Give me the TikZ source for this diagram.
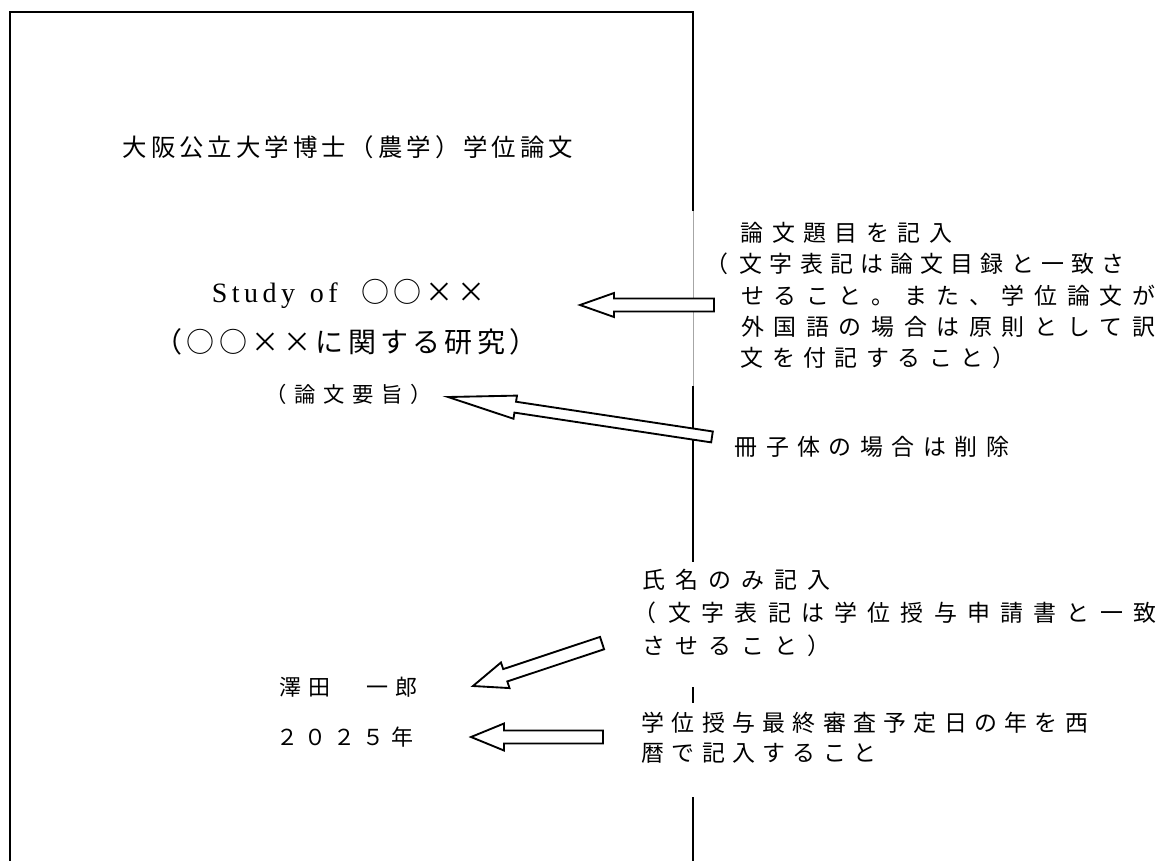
\documentclass[tikz,border=0pt]{standalone}
\usepackage{fontspec}
\newfontfamily\jp{Noto Sans CJK JP}
\newfontfamily\latinserif{Liberation Serif}[LetterSpace=16]
\makeatletter
\newcommand\jpspaced[2]{\def\jp@pitch{#1}\jp@next#2\jp@stop}
\def\jp@stop{\jp@stop}
\def\jp@next#1{\ifx\jp@stop#1\else\makebox[\jp@pitch][c]{#1}\expandafter\jp@next\fi}
\makeatother
\tikzset{
    pics/blockarrow/.style args={#1/#2/#3/#4}{code={
    \draw[line width=1.4pt, fill=white, line join=miter] (0,0) -- (#2,#3) -- (#2,#4) -- (#1,#4) -- (#1,-#4) -- (#2,-#4) -- (#2,-#3) -- cycle;
    }}
}

\begin{document}
\begin{tikzpicture}[x=0.75pt,y=-0.75pt,line join=miter,
    pageline/.style={line width=1.5pt},
    jpnode/.style={inner sep=0pt}]
\useasboundingbox (0,0) rectangle (1158,861);

\draw[pageline] (693,211) -- (693,12) -- (10,12) -- (10,861);
\draw[line width=0.75pt, black!35] (693,211) -- (693,386);
\draw[pageline] (693,386) -- (693,562);
\draw[pageline] (693,687) -- (693,703);
\draw[pageline] (693,797) -- (693,861);

\node[jpnode, font=\jp\fontsize{18.3pt}{20pt}\selectfont] (degree) at (348,147) {\jpspaced{21.3pt}{大阪公立大学博士（農学）学位論文}};
\node[jpnode, font=\jp\fontsize{21pt}{24pt}\selectfont] (title) at (350,294) {{\latinserif Study\hspace{11pt}of}\hspace{16pt}\jpspaced{24.2pt}{○○××}};
\node[jpnode, font=\jp\fontsize{21pt}{24pt}\selectfont] (subtitle) at (346,342) {\jpspaced{24.2pt}{（○○××に関する研究）}};
\node[jpnode, font=\jp\fontsize{16pt}{18pt}\selectfont] (summary) at (349,394) {\jpspaced{21.75pt}{（論文要旨）}};
\node[jpnode, font=\jp\fontsize{16.5pt}{18pt}\selectfont] (author) at (348.5,687) {\jpspaced{21.75pt}{澤田~一郎}};
\node[jpnode, font=\jp\fontsize{16.5pt}{18pt}\selectfont] (year) at (345,737) {\jpspaced{21.75pt}{２０２５年}};

\node[jpnode, anchor=north west, align=left, font=\jp\fontsize{17.2pt}{23.5pt}\selectfont] (titlenote) at (736,222) {\jpspaced{23.6pt}{論文題目を記入}\\
\llap{（\kern5.6pt}\jpspaced{22.6pt}{文字表記は論文目録と一致さ}\\
\jpspaced{24.45pt}{せること。また、学位論文が}\\
\jpspaced{24.45pt}{外国語の場合は原則として訳}\\
\jpspaced{23.6pt}{文を付記すること）}};
\node[jpnode, anchor=west, font=\jp\fontsize{17.2pt}{23.5pt}\selectfont] (bookletnote) at (730,447) {\jpspaced{23.6pt}{冊子体の場合は削除}};
\node[jpnode, anchor=north west, align=left, font=\jp\fontsize{17.2pt}{24.75pt}\selectfont] (namenote) at (637,569) {\jpspaced{24.75pt}{氏名のみ記入}\\
\kern-2.6pt（\kern5pt\jpspaced{24.9pt}{文字表記は学位授与申請書と一致}\\
\jpspaced{24.75pt}{させること）}};
\node[jpnode, anchor=north west, align=left, font=\jp\fontsize{17.2pt}{22.1pt}\selectfont] (yearnote) at (637.6,712) {\jpspaced{22.7pt}{学位授与最終審査予定日の年を西}\\
\jpspaced{22.7pt}{暦で記入すること}};

\coordinate (titletip) at (580,305);
\coordinate (summarytip) at (448,397);
\coordinate (authortip) at (473,686);
\coordinate (yeartip) at (471,737);
\path (titletip) pic {blockarrow=134/34/12/6.5};
\path (summarytip) pic[rotate=-8.6] {blockarrow=267/68/11.7/5.5};
\path (authortip) pic[rotate=18.4] {blockarrow=136/34/13.5/6.5};
\path (yeartip) pic {blockarrow=132/33/13.5/6.5};
\end{tikzpicture}
\end{document}
